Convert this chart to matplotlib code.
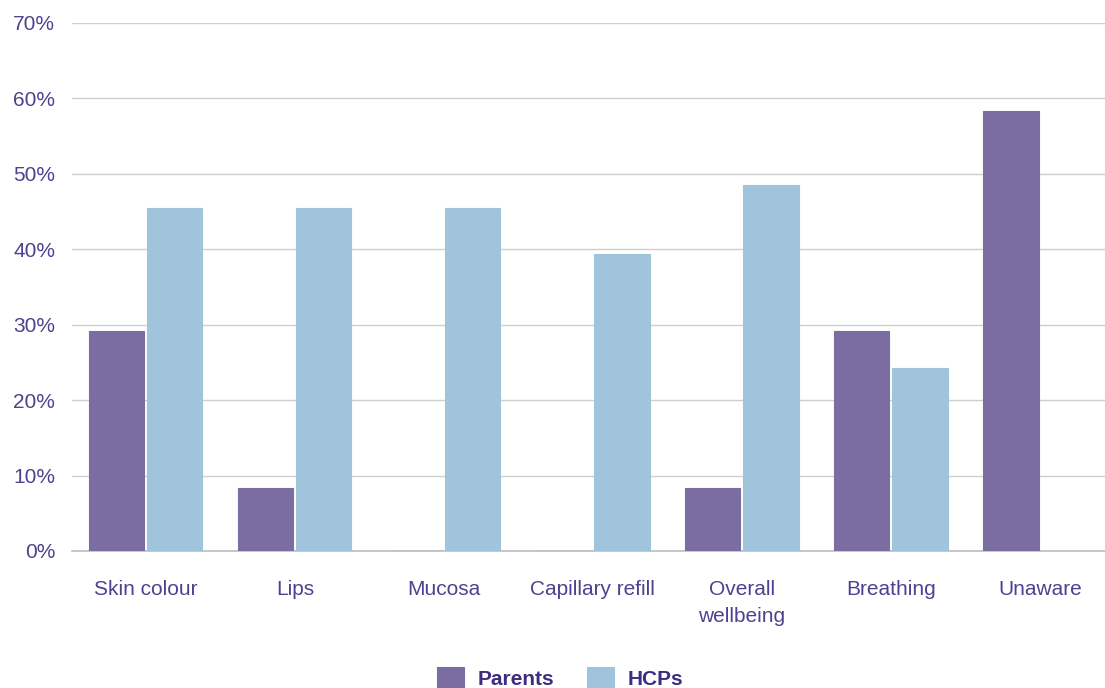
import matplotlib
matplotlib.use('Agg')
import matplotlib.pyplot as plt
import numpy as np

# Data (percent of respondents)
categories = ['Skin colour', 'Lips', 'Mucosa', 'Capillary refill',
              'Overall\nwellbeing', 'Breathing', 'Unaware']
parents = [29.2, 8.3, 0, 0, 8.3, 29.2, 58.3]
hcps = [45.5, 45.5, 45.5, 39.4, 48.5, 24.2, 0]
yticks = [0, 10, 20, 30, 40, 50, 60, 70]

ParentColor = '#7B6CA2'
HCPColor = '#A0C4DB'
TextColor = '#4F4190'
LegendText = '#3D2C7F'

plt.rcParams.update({
    'font.family': ['Liberation Sans', 'DejaVu Sans'],
    'font.size': 15,
})

fig = plt.figure(figsize=(11.05, 6.88), dpi=100)
ax = fig.add_axes([72 / 1105, 1 - 551 / 688, 1 - 72 / 1105, (551 - 23) / 688])

x = np.arange(len(categories))
w = 0.37
off = 0.195
ax.bar(x - off, parents, width=w, color=ParentColor, edgecolor=ParentColor,
       linewidth=0.8, label='Parents', zorder=3)
ax.bar(x + off, hcps, width=w, color=HCPColor, edgecolor=HCPColor,
       linewidth=0.8, label='HCPs', zorder=3)

ax.set_xlim(-0.495, 6.436)
ax.set_ylim(0, 70)
ax.set_yticks(yticks)
ax.set_yticklabels([f'{v}%' for v in yticks], color=TextColor, fontsize=15)
ax.set_xticks(x)
ax.set_xticklabels(categories, color=TextColor, fontsize=15, linespacing=1.5)
ax.tick_params(axis='x', length=0, pad=21)
ax.tick_params(axis='y', length=0, pad=12)

ax.grid(axis='y', color='#CFCFCF', linewidth=1.0)
ax.set_axisbelow(True)
for s in ['top', 'right', 'left']:
    ax.spines[s].set_visible(False)
ax.spines['bottom'].set_color('#BDBDBD')
ax.spines['bottom'].set_linewidth(1.2)

leg = fig.legend(loc='center', bbox_to_anchor=(560 / 1105, 1 - 678 / 688),
                 ncol=2, frameon=False, handlelength=1.3, handleheight=1.2,
                 handletextpad=0.67, columnspacing=1.55,
                 prop={'weight': 'bold', 'size': 15})
for t in leg.get_texts():
    t.set_color(LegendText)

fig.savefig('out.png', dpi=100)
